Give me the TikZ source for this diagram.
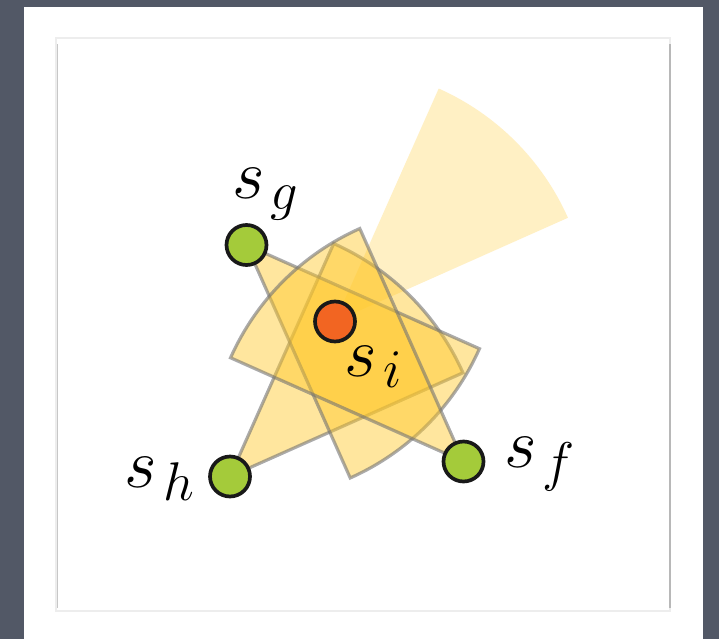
\RequirePackage{fix-cm}
\documentclass[tikz,border=0pt]{standalone}
\usetikzlibrary{backgrounds}
\DeclareMathSizes{40}{40}{31}{24}
\definecolor{slate}{RGB}{82,88,102}
\definecolor{sensorgreen}{RGB}{164,203,58}
\definecolor{targetorange}{RGB}{242,101,34}
\definecolor{fovyellow}{RGB}{255,200,40}
\begin{document}
\begin{tikzpicture}[
    %% Styles
    sensor/.style={
      circle, draw=black!90, line width=2.1pt,
      minimum size=0.80cm, inner sep=0pt, fill=sensorgreen
    },
    target/.style={sensor, fill=targetorange},
    fov/.style={
      fill=fovyellow, fill opacity=0.45,
      draw=black!55, draw opacity=0.6, line width=1.8pt
    },
    fovPale/.style={fill=fovyellow, fill opacity=0.27},
    lbl/.style={anchor=base west, inner sep=0pt, font=\fontsize{40}{44}\selectfont}
  ]
  \useasboundingbox (0,0) rectangle (14.38,12.78);

  %% -- Sensors -------------------------------------------
  \node[sensor] (sg) at (4.93, 7.88) {};
  \node[target] (si) at (6.70, 6.35) {};
  \node[sensor] (sh) at (4.60, 3.25) {};
  \node[sensor] (sf) at (9.27, 3.55) {};

  %% -- Labels --------------------------------------------
  \node[lbl] (lg) at (4.64, 8.80) {$s_{\mkern2mu g}$};
  \node[lbl] (li) at (6.89, 5.26) {$s_{\mkern2mu i}$};
  \node[lbl] (lh) at (2.49, 3.04) {$s_{\mkern2mu h}$};
  \node[lbl] (lf) at (10.08, 3.44) {$s_{\mkern2mu f}$};

  \begin{scope}[on background layer]
    % panel and frame
    \fill[slate] (0,0) rectangle (14.38,12.78);
    \fill[white] (0.48,0) rectangle (14.06,12.64);
    \draw[black!7, line width=0.8pt] (1.12,0.56) rectangle (13.40,12.02);
    \draw[black!22, line width=0.8pt] (1.15,0.62) -- (1.15,11.9);
    \draw[black!28, line width=0.8pt] (13.40,0.62) -- (13.40,11.9);

    % field of view of s_i
    \fill[fovPale] (si.center) -- ++(24:5.1) arc[start angle=24, end angle=66, radius=5.1] -- cycle;

    % fields of view of the neighbours
    \draw[fov] (sh.center) -- ++(24:5.1) arc[start angle=24, end angle=66, radius=5.1] -- cycle;
    \draw[fov] (sg.center) -- ++(-66:5.1) arc[start angle=-66, end angle=-24, radius=5.1] -- cycle;
    \draw[fov] (sf.center) -- ++(114:5.1) arc[start angle=114, end angle=156, radius=5.1] -- cycle;
  \end{scope}
\end{tikzpicture}
\end{document}
